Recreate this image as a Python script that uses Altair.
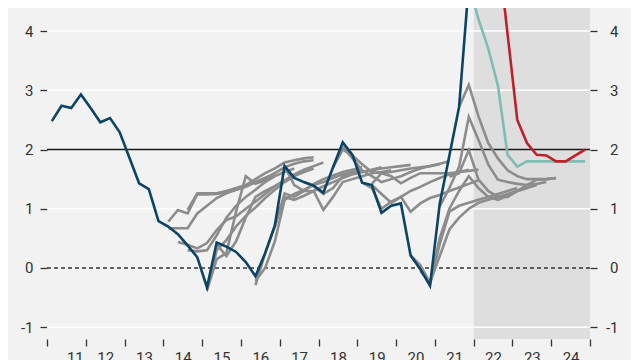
import altair as alt
import pandas as pd

# quarter index t: 0 = 2011Q1
FIRST_YEAR = 2011

blue_start = 0
blue_vals = [2.48, 2.74, 2.70, 2.93, 2.70, 2.46, 2.53, 2.29,
             1.86, 1.43, 1.33, 0.79, 0.70, 0.57, 0.38, 0.18,
             -0.33, 0.43, 0.36, 0.27, 0.10, -0.14, 0.25, 0.72,
             1.72, 1.52, 1.45, 1.39, 1.27, 1.70, 2.12, 1.91,
             1.44, 1.40, 0.93, 1.05, 1.09, 0.21, -0.02, -0.30,
             1.08, 1.90, 2.72, 4.80]

teal_start = 43
teal_vals = [4.80, 4.20, 3.71, 3.08, 1.91, 1.71, 1.80, 1.80, 1.80, 1.80, 1.80, 1.80, 1.80]

red_start = 46
red_vals = [5.40, 3.95, 2.50, 2.11, 1.91, 1.90, 1.80, 1.80, 1.90, 2.00]

grey_starts = [12, 12, 13, 14, 14, 16, 16, 17, 21, 21, 23, 24,
               26, 29, 30, 32, 33, 33, 37, 38, 40, 42, 41, 39]
grey_vals = [
    [0.78, 0.98, 0.92, 1.24, 1.24, 1.25, 1.28, 1.32, 1.38, 1.45, 1.52, 1.60],
    [0.67, 0.67, 0.67, 0.92, 1.05, 1.18, 1.26, 1.32, 1.37, 1.45, 1.52, 1.58],
    [0.44, 0.39, 0.33, 0.42, 0.64, 0.81, 0.87, 1.00, 1.12, 1.25, 1.38, 1.48],
    [0.30, 0.28, 0.30, 0.55, 0.85, 1.05, 1.20, 1.32, 1.45, 1.55, 1.62, 1.68],
    [0.98, 1.26, 1.26, 1.26, 1.30, 1.35, 1.40, 1.50, 1.60, 1.68, 1.78, 1.82, 1.85, 1.87],
    [-0.38, 0.15, 0.25, 0.95, 1.55, 1.42, 1.48, 1.60, 1.70, 1.76, 1.80, 1.82],
    [-0.36, 0.30, 0.47, 0.70, 0.88, 1.02, 1.18, 1.32, 1.45, 1.55, 1.62, 1.68],
    [0.40, 0.20, 0.45, 0.85, 1.20, 1.30, 1.38, 1.48, 1.58, 1.66, 1.72, 1.78],
    [-0.29, 0.25, 0.70, 1.26, 1.20, 1.30, 1.42, 1.50, 1.56, 1.62, 1.66, 1.70],
    [-0.22, 0.00, 0.45, 1.15, 1.25, 1.32, 1.40, 1.45, 1.52, 1.58, 1.62, 1.66],
    [0.72, 1.20, 1.15, 1.22, 1.30, 1.38, 1.45, 1.52, 1.58, 1.62, 1.66, 1.70],
    [1.72, 1.40, 1.30, 1.30, 0.98, 1.20, 1.45, 1.50, 1.55, 1.60, 1.62, 1.65],
    [1.45, 1.38, 1.25, 1.35, 1.55, 1.60, 1.62, 1.65, 1.68, 1.70, 1.72, 1.74],
    [1.70, 2.00, 1.90, 1.75, 1.62, 1.60, 1.62, 1.65, 1.68, 1.70, 1.72, 1.75],
    [2.05, 1.85, 1.65, 1.55, 1.45, 1.50, 1.55, 1.62, 1.68, 1.72, 1.76, 1.80],
    [1.44, 1.35, 1.00, 1.12, 1.20, 1.30, 1.37, 1.45, 1.52, 1.58, 1.62, 1.66],
    [1.40, 1.25, 1.10, 1.20, 0.95, 1.09, 1.18, 1.23, 1.30, 1.36, 1.42, 1.48],
    [1.42, 1.60, 1.55, 1.43, 1.52, 1.60, 1.60, 1.60, 1.60, 1.62, 1.64, 1.66],
    [0.21, 0.05, -0.25, 0.40, 0.95, 1.05, 1.10, 1.15, 1.20, 1.25, 1.30, 1.35],
    [-0.05, -0.25, 0.20, 0.65, 0.85, 1.00, 1.10, 1.15, 1.20, 1.25, 1.30, 1.35],
    [1.04, 1.35, 1.71, 2.55, 2.16, 1.75, 1.49, 1.45, 1.42, 1.40, 1.42, 1.45],
    [2.72, 3.09, 2.56, 2.11, 1.85, 1.65, 1.55, 1.50, 1.50, 1.50, 1.52],
    [1.54, 1.60, 1.99, 1.49, 1.30, 1.20, 1.20, 1.30, 1.40, 1.49, 1.50, 1.52],
    [-0.28, 0.50, 1.00, 1.30, 1.55, 1.35, 1.20, 1.15, 1.22, 1.30, 1.35, 1.40],
]

forecast_shade = [2022, 2025]
grid_values = [-1, 1, 3, 4]
zero_value = [0]
target_value = [2]
y_ticks = [-1, 0, 1, 2, 3, 4]
x_ticks = list(range(2011, 2026))


def series_rows(name, start, vals):
    return [{"series": name, "x": FIRST_YEAR + (start + i + 0.5) / 4, "y": v}
            for i, v in enumerate(vals)]


blue_df = pd.DataFrame(series_rows("blue", blue_start, blue_vals))
teal_df = pd.DataFrame(series_rows("teal", teal_start, teal_vals))
red_df = pd.DataFrame(series_rows("red", red_start, red_vals))
grey_rows = []
for k, (s, v) in enumerate(zip(grey_starts, grey_vals)):
    grey_rows += series_rows(f"g{k}", s, v)
grey_df = pd.DataFrame(grey_rows)

xscale = alt.Scale(domain=[2011, 2025], nice=False, zero=False)
yscale = alt.Scale(domain=[-1.2, 4.39], nice=False, zero=False)

FONT = "Roboto"
LABEL_COLOR = "#333333"

x_axis = alt.Axis(values=x_ticks, grid=False, domain=False,
                  tickSize=7, tickColor="#333333", tickWidth=1.3,
                  labelOffset=19.4, labelPadding=4, labelFontSize=15,
                  labelFont=FONT, labelColor=LABEL_COLOR, title=None,
                  labelExpr="datum.value < 2025 ? substring(toString(datum.value), 2, 4) : ''")
left_axis = alt.Axis(orient="left", values=y_ticks, grid=False, domain=False,
                     tickSize=7, tickColor="#333333", tickWidth=1.3,
                     labelPadding=7, labelFontSize=15, labelFont=FONT,
                     labelColor=LABEL_COLOR, title=None,
                     labelExpr="toString(datum.value)")
right_axis = alt.Axis(orient="right", values=y_ticks, grid=False, domain=False,
                      tickSize=7, tickColor="#333333", tickWidth=1.3,
                      labelPadding=21, labelAlign="right", labelFontSize=15,
                      labelFont=FONT, labelColor=LABEL_COLOR, title=None,
                      labelExpr="toString(datum.value)")

shade = alt.Chart(pd.DataFrame({"x0": [forecast_shade[0]], "x1": [forecast_shade[1]]})).mark_rect(
    color="#dedede").encode(x=alt.X("x0:Q", scale=xscale, axis=x_axis), x2="x1:Q")

grid = alt.Chart(pd.DataFrame({"v": grid_values})).mark_rule(
    color="white", strokeWidth=1.5).encode(y=alt.Y("v:Q", scale=yscale, axis=left_axis))

zero = alt.Chart(pd.DataFrame({"v": zero_value})).mark_rule(
    color="#333333", strokeWidth=1.5, strokeDash=[4, 3]).encode(
    y=alt.Y("v:Q", scale=yscale, axis=right_axis))

target = alt.Chart(pd.DataFrame({"v": target_value})).mark_rule(
    color="#1a1a1a", strokeWidth=1.3).encode(y=alt.Y("v:Q", scale=yscale, axis=None))

grey = alt.Chart(grey_df).mark_line(color="#8c8c8c", strokeWidth=2.6, clip=True).encode(
    x=alt.X("x:Q", scale=xscale, axis=x_axis),
    y=alt.Y("y:Q", scale=yscale, axis=None),
    detail="series:N")


def colored_line(df, color):
    return alt.Chart(df).mark_line(color=color, strokeWidth=2.6, clip=True).encode(
        x=alt.X("x:Q", scale=xscale, axis=x_axis),
        y=alt.Y("y:Q", scale=yscale, axis=None))


chart = alt.layer(
    shade, grid, zero, target, grey,
    colored_line(teal_df, "#7fbdb3"),
    colored_line(red_df, "#c0202a"),
    colored_line(blue_df, "#0c4466"),
).resolve_axis(y="independent").properties(
    width=543, height=331,
    autosize=alt.AutoSizeParams(type="none"),
    padding={"left": 39, "top": 0, "right": 41, "bottom": 21},
    background="#f2f2f2",
).configure_view(stroke=None)

chart.save("out.html", embed_options={"renderer": "svg", "actions": False})
